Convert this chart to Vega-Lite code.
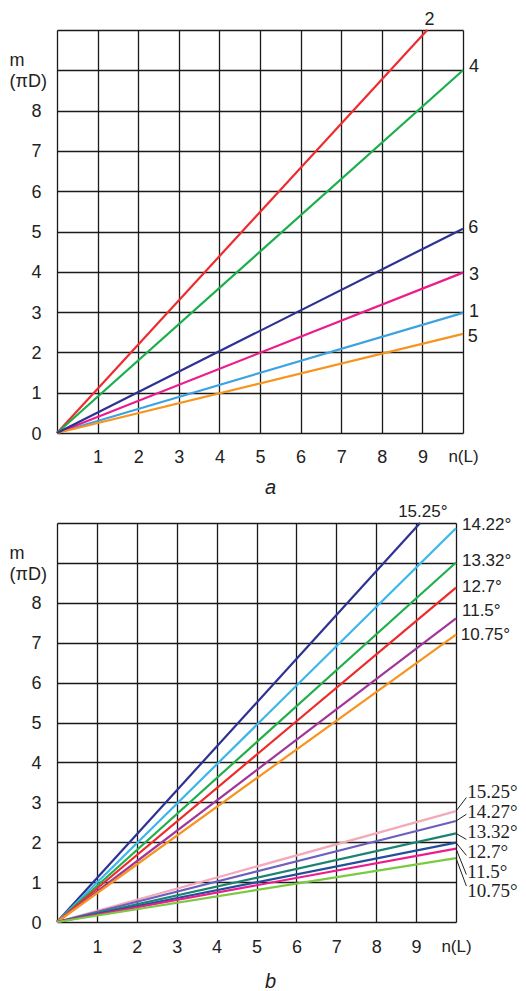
{
  "$schema": "https://vega.github.io/schema/vega-lite/v6.json",
  "padding": {"left": 9, "top": 11, "right": 0, "bottom": 0},
  "bounds": "flush",
  "spacing": 90,
  "resolve": {"scale": {"color": "independent"}},
  "config": {
    "view": {"stroke": null},
    "font": "Liberation Sans",
    "text": {"font": "Liberation Sans", "color": "#222"},
    "line": {"strokeWidth": 2.2}
  },
  "datasets": {
    "topLines": [
      {"series": "1", "n": 0, "m": 0}, {"series": "1", "n": 10, "m": 2.98},
      {"series": "2", "n": 0, "m": 0}, {"series": "2", "n": 9.12, "m": 10},
      {"series": "3", "n": 0, "m": 0}, {"series": "3", "n": 10, "m": 3.98},
      {"series": "4", "n": 0, "m": 0}, {"series": "4", "n": 10, "m": 9.0},
      {"series": "5", "n": 0, "m": 0}, {"series": "5", "n": 10, "m": 2.46},
      {"series": "6", "n": 0, "m": 0}, {"series": "6", "n": 10, "m": 5.07}
    ],
    "topLabels": [
      {"label": "2", "n": 9.05, "m": 10.12},
      {"label": "4", "n": 10.15, "m": 8.97},
      {"label": "6", "n": 10.13, "m": 4.97},
      {"label": "3", "n": 10.15, "m": 3.8},
      {"label": "1", "n": 10.15, "m": 2.89},
      {"label": "5", "n": 10.12, "m": 2.27}
    ],
    "bottomLines": [
      {"series": "upper 15.25°", "n": 0, "m": 0}, {"series": "upper 15.25°", "n": 9.1, "m": 10},
      {"series": "upper 14.22°", "n": 0, "m": 0}, {"series": "upper 14.22°", "n": 10, "m": 9.87},
      {"series": "upper 13.32°", "n": 0, "m": 0}, {"series": "upper 13.32°", "n": 10, "m": 9.01},
      {"series": "upper 12.7°", "n": 0, "m": 0}, {"series": "upper 12.7°", "n": 10, "m": 8.38},
      {"series": "upper 11.5°", "n": 0, "m": 0}, {"series": "upper 11.5°", "n": 10, "m": 7.61},
      {"series": "upper 10.75°", "n": 0, "m": 0}, {"series": "upper 10.75°", "n": 10, "m": 7.2},
      {"series": "lower 15.25°", "n": 0, "m": 0}, {"series": "lower 15.25°", "n": 10, "m": 2.78},
      {"series": "lower 14.27°", "n": 0, "m": 0}, {"series": "lower 14.27°", "n": 10, "m": 2.53},
      {"series": "lower 13.32°", "n": 0, "m": 0}, {"series": "lower 13.32°", "n": 10, "m": 2.22},
      {"series": "lower 12.7°", "n": 0, "m": 0}, {"series": "lower 12.7°", "n": 10, "m": 1.99},
      {"series": "lower 11.5°", "n": 0, "m": 0}, {"series": "lower 11.5°", "n": 10, "m": 1.84},
      {"series": "lower 10.75°", "n": 0, "m": 0}, {"series": "lower 10.75°", "n": 10, "m": 1.6}
    ],
    "upperLabels": [
      {"label": "15.25°", "n": 8.55, "m": 10.16},
      {"label": "14.22°", "n": 10.15, "m": 9.83},
      {"label": "13.32°", "n": 10.15, "m": 8.91},
      {"label": "12.7°", "n": 10.15, "m": 8.28},
      {"label": "11.5°", "n": 10.15, "m": 7.66},
      {"label": "10.75°", "n": 10.12, "m": 7.08}
    ],
    "lowerLabels": [
      {"label": "15.25°", "n": 10.28, "m": 3.1},
      {"label": "14.27°", "n": 10.28, "m": 2.61},
      {"label": "13.32°", "n": 10.28, "m": 2.1},
      {"label": "12.7°", "n": 10.28, "m": 1.6},
      {"label": "11.5°", "n": 10.28, "m": 1.1},
      {"label": "10.75°", "n": 10.28, "m": 0.62}
    ],
    "leaders": [
      {"n": 10, "m": 2.78, "n2": 10.26, "m2": 3.12},
      {"n": 10, "m": 2.53, "n2": 10.26, "m2": 2.7},
      {"n": 10, "m": 2.22, "n2": 10.26, "m2": 2.07},
      {"n": 10, "m": 1.99, "n2": 10.26, "m2": 1.67},
      {"n": 10, "m": 1.84, "n2": 10.26, "m2": 1.19},
      {"n": 10, "m": 1.6, "n2": 10.26, "m2": 0.9}
    ]
  },
  "vconcat": [
    {
      "width": 406,
      "height": 403,
      "encoding": {
        "x": {
          "field": "n", "type": "quantitative",
          "scale": {"domain": [0, 10], "nice": false, "zero": false},
          "axis": {
            "values": [0, 1, 2, 3, 4, 5, 6, 7, 8, 9, 10],
            "grid": true, "gridColor": "#1a1a1a", "gridWidth": 1.3, "gridOpacity": 1,
            "ticks": false, "domain": false,
            "labelPadding": 15, "labelBaseline": "top",
            "labelFontSize": {"condition": {"test": "datum.value == 10", "value": 17}, "value": 18},
            "labelColor": "#222", "labelFont": "Liberation Sans",
            "labelExpr": "datum.value == 0 ? '' : datum.value == 10 ? 'n(L)' : datum.label",
            "labelFlush": false, "labelOverlap": false,
            "title": "a", "titleFont": "Liberation Sans", "titleFontSize": 20,
            "titleFontStyle": "italic", "titleFontWeight": "normal", "titleColor": "#222",
            "titleX": 213, "titleY": 60, "titleAlign": "center", "titleBaseline": "alphabetic"
          }
        },
        "y": {
          "field": "m", "type": "quantitative",
          "scale": {"domain": [0, 10], "nice": false, "zero": false},
          "axis": {
            "values": [0, 1, 2, 3, 4, 5, 6, 7, 8, 9, 10],
            "grid": true, "gridColor": "#1a1a1a", "gridWidth": 1.3, "gridOpacity": 1,
            "ticks": false, "domain": false,
            "labelPadding": 16, "labelOffset": 1, "labelBaseline": "middle",
            "labelFontSize": 18, "labelColor": "#222", "labelFont": "Liberation Sans",
            "labelExpr": "datum.value > 8 ? '' : datum.label",
            "labelFlush": false, "labelOverlap": false,
            "title": ["m", "(πD)"], "titleFont": "Liberation Sans", "titleFontSize": 18,
            "titleFontWeight": "normal", "titleColor": "#222", "titleAngle": 0,
            "titleAlign": "left", "titleBaseline": "alphabetic",
            "titleX": -48, "titleY": 35, "titleLineHeight": 21
          }
        }
      },
      "layer": [
        {
          "data": {"name": "topLines"},
          "mark": {"type": "line", "strokeWidth": 2.2},
          "encoding": {
            "color": {
              "field": "series", "type": "nominal", "legend": null,
              "scale": {
                "domain": ["1", "2", "3", "4", "5", "6"],
                "range": ["#3da3e0", "#ee2b2f", "#ec1c8c", "#1aae4d", "#f7941d", "#2e3192"]
              }
            }
          }
        },
        {
          "data": {"name": "topLabels"},
          "mark": {"type": "text", "align": "left", "baseline": "alphabetic", "fontSize": 18, "color": "#222"},
          "encoding": {"text": {"field": "label", "type": "nominal"}}
        }
      ]
    },
    {
      "width": 399,
      "height": 399,
      "encoding": {
        "x": {
          "field": "n", "type": "quantitative",
          "scale": {"domain": [0, 10], "nice": false, "zero": false},
          "axis": {
            "values": [0, 1, 2, 3, 4, 5, 6, 7, 8, 9, 10],
            "grid": true, "gridColor": "#1a1a1a", "gridWidth": 1.3, "gridOpacity": 1,
            "ticks": false, "domain": false,
            "labelPadding": 16, "labelBaseline": "top",
            "labelFontSize": {"condition": {"test": "datum.value == 10", "value": 17}, "value": 18},
            "labelColor": "#222", "labelFont": "Liberation Sans",
            "labelExpr": "datum.value == 0 ? '' : datum.value == 10 ? 'n(L)' : datum.label",
            "labelFlush": false, "labelOverlap": false,
            "title": "b", "titleFont": "Liberation Sans", "titleFontSize": 20,
            "titleFontStyle": "italic", "titleFontWeight": "normal", "titleColor": "#222",
            "titleX": 213, "titleY": 65, "titleAlign": "center", "titleBaseline": "alphabetic"
          }
        },
        "y": {
          "field": "m", "type": "quantitative",
          "scale": {"domain": [0, 10], "nice": false, "zero": false},
          "axis": {
            "values": [0, 1, 2, 3, 4, 5, 6, 7, 8, 9, 10],
            "grid": true, "gridColor": "#1a1a1a", "gridWidth": 1.3, "gridOpacity": 1,
            "ticks": false, "domain": false,
            "labelPadding": 16, "labelOffset": 1, "labelBaseline": "middle",
            "labelFontSize": 18, "labelColor": "#222", "labelFont": "Liberation Sans",
            "labelExpr": "datum.value > 8 ? '' : datum.label",
            "labelFlush": false, "labelOverlap": false,
            "title": ["m", "(πD)"], "titleFont": "Liberation Sans", "titleFontSize": 18,
            "titleFontWeight": "normal", "titleColor": "#222", "titleAngle": 0,
            "titleAlign": "left", "titleBaseline": "alphabetic",
            "titleX": -48, "titleY": 35, "titleLineHeight": 21
          }
        }
      },
      "layer": [
        {
          "data": {"name": "bottomLines"},
          "mark": {"type": "line", "strokeWidth": 2.2},
          "encoding": {
            "color": {
              "field": "series", "type": "nominal", "legend": null,
              "scale": {
                "domain": ["upper 15.25°", "upper 14.22°", "upper 13.32°", "upper 12.7°", "upper 11.5°", "upper 10.75°",
                           "lower 15.25°", "lower 14.27°", "lower 13.32°", "lower 12.7°", "lower 11.5°", "lower 10.75°"],
                "range": ["#2e3192", "#3bb6ea", "#22ae4b", "#ee2a2a", "#a0359a", "#f7931e",
                          "#f4a8b8", "#6c5fbf", "#1a8470", "#234e9a", "#ec1c8c", "#7ac943"]
              }
            }
          }
        },
        {
          "data": {"name": "leaders"},
          "mark": {"type": "rule", "color": "#222", "strokeWidth": 1},
          "encoding": {
            "x2": {"field": "n2"},
            "y2": {"field": "m2"}
          }
        },
        {
          "data": {"name": "upperLabels"},
          "mark": {"type": "text", "align": "left", "baseline": "alphabetic", "fontSize": 17, "color": "#222"},
          "encoding": {"text": {"field": "label", "type": "nominal"}}
        },
        {
          "data": {"name": "lowerLabels"},
          "mark": {"type": "text", "align": "left", "baseline": "alphabetic", "fontSize": 19, "font": "Liberation Serif", "color": "#222"},
          "encoding": {"text": {"field": "label", "type": "nominal"}}
        }
      ]
    }
  ]
}
